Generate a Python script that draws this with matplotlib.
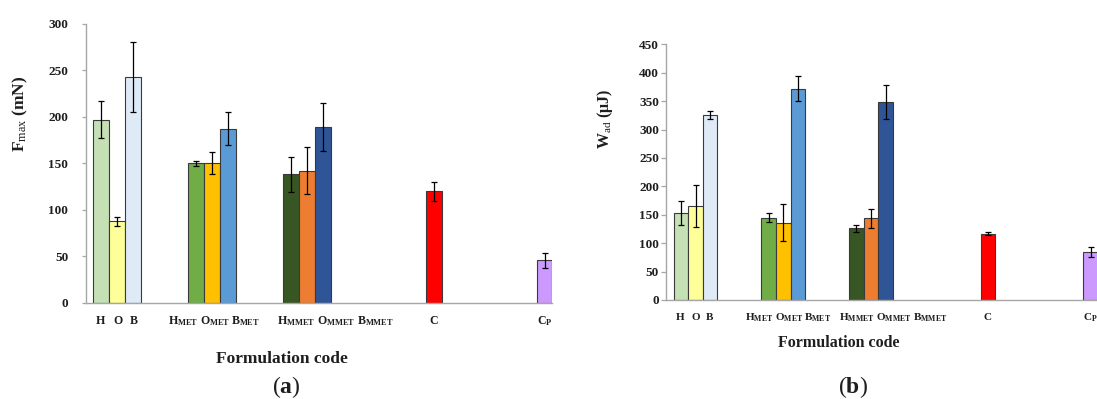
import matplotlib
matplotlib.use("Agg")
import matplotlib.pyplot as plt
from matplotlib.patches import Rectangle

plt.rcParams['font.family'] = ['Liberation Serif', 'DejaVu Serif']
plt.rcParams['mathtext.fontset'] = 'custom'
plt.rcParams['mathtext.rm'] = 'Liberation Serif'
plt.rcParams['mathtext.bf'] = 'Liberation Serif:bold'
plt.rcParams['mathtext.it'] = 'Liberation Serif:italic'

# ---------------- data ----------------
categories = ['H', 'O', 'B', 'H_MET', 'O_MET', 'B_MET',
              'H_MMET', 'O_MMET', 'B_MMET', 'C', 'C_P']
tick_labels = ['H', 'O', 'B',
               r'H$_{\mathregular{MET}}$', r'O$_{\mathregular{MET}}$', r'B$_{\mathregular{MET}}$',
               r'H$_{\mathregular{MMET}}$', r'O$_{\mathregular{MMET}}$', r'B$_{\mathregular{MMET}}$',
               'C', r'C$_{\mathregular{P}}$']
fmax = [197, 87.5, 243, 150, 150, 187.5, 138, 142, 189, 120, 45.5]
fmax_err = [20, 5, 38, 2.5, 12, 18, 18.5, 25.5, 25.5, 10, 7.7]
wad = [153, 165, 325, 145, 136, 372, 126, 144, 348, 117, 85]
wad_err = [21, 37, 7, 8, 33, 22, 5.5, 16.5, 29.5, 2.5, 9]
colors = ['#C5E0B4', '#FFFF99', '#DEEBF7', '#70AD47', '#FFC000', '#5B9BD5',
          '#375623', '#ED7D31', '#2F5597', '#FF0000', '#CC99FF']

# ---------------- layout ----------------
bar_w = 1 / 6
bar_pos = [-1/6, 0, 1/6, 5/6, 1, 7/6, 11/6, 2, 13/6, 10/3, 4.5]
label_pos_a = [-0.17, 0.01, 0.18, 0.70, 1.03, 1.35, 1.88, 2.31, 2.72, 3.33, 4.5]
label_pos_b = [-0.17, 0.0, 0.16, 0.72, 1.07, 1.39, 1.84, 2.26, 2.67, 3.33, 4.5]

W, H = 1097, 399
fig = plt.figure(figsize=(W / 100, H / 100), dpi=100)


def px_axes(x0, x1, ytop, ybot):
    return fig.add_axes([x0 / W, 1 - ybot / H, (x1 - x0) / W, (ybot - ytop) / H])


text_color = '#1E1E1E'
spine_color = '#A6A6A6'


def draw_panel(ax, vals, errs, ymax, xlim, ylabel, xlabel_xy, ylabel_xy, tickpad, ytickpad,
               ticklen, label_pos, xtick_size, label_size):
    ax.bar(bar_pos, vals, width=bar_w, color=colors, edgecolor='#3A3A3A', linewidth=0.8, zorder=2)
    ax.errorbar(bar_pos, vals, yerr=errs, fmt='none', ecolor='black', elinewidth=0.9,
                capsize=2.3, capthick=0.9, zorder=3)
    ax.set_xlim(*xlim)
    ax.set_ylim(0, ymax)
    ax.set_yticks(range(0, ymax + 1, 50))
    for s in ['top', 'right']:
        ax.spines[s].set_visible(False)
    for s in ['left', 'bottom']:
        ax.spines[s].set_color(spine_color)
        ax.spines[s].set_linewidth(1.0)
    ax.tick_params(axis='y', colors=spine_color, length=ticklen, width=0.9, pad=ytickpad,
                   labelcolor=text_color, labelsize=9.5)
    for lab in ax.get_yticklabels():
        lab.set_fontweight('bold')
    ax.set_xticks(label_pos)
    labs = ax.set_xticklabels(tick_labels, fontsize=xtick_size, fontweight='bold',
                              color=text_color, va='baseline')
    ax.tick_params(axis='x', length=0, pad=tickpad)
    ax.set_ylabel(ylabel, fontsize=label_size, fontweight='bold', color=text_color)
    ax.yaxis.label.set_va('center')
    ax.yaxis.set_label_coords(*ylabel_xy)
    ax.set_xlabel('Formulation code', fontsize=label_size, fontweight='bold', color=text_color)
    ax.xaxis.label.set_va('center')
    ax.xaxis.set_label_coords(*xlabel_xy)
    return labs


axL = px_axes(86, 552, 24, 302.7)
labsL = draw_panel(axL, fmax, fmax_err, 300,
                   ((86 - 117) / 95, (552 - 117) / 95),
                   r'F$_{\mathrm{max}}$ (mN)',
                   ((281.7 - 86) / 466, (302.7 - 359.3) / 278.7),
                   ((20 - 86) / 466, (302.7 - 113.5) / 278.7),
                   15.6, 9.6, 3.2, label_pos_a, 8.6, 12.5)
clip_rect = Rectangle((0, 0), 552 / W, 1, transform=fig.transFigure)
for lab in labsL:
    lab.set_clip_path(clip_rect)

axR = px_axes(666, 1097, 44.3, 300)
draw_panel(axR, wad, wad_err, 450,
           ((666 - 695.5) / 87.8, (1097 - 695.5) / 87.8),
           r'W$_{\mathrm{ad}}$ (μJ)',
           ((838.7 - 666) / 431, (300 - 343.3) / 255.7),
           ((605 - 666) / 431, (300 - 119) / 255.7),
           14.6, 1.5, 3.6, label_pos_b, 8.0, 11.5)

fig.text(286.6 / W, 1 - 386.7 / H, r'($\mathbf{a}$)', fontsize=17, ha='center', va='center',
         color=text_color)
fig.text(853 / W, 1 - 386.7 / H, r'($\mathbf{b}$)', fontsize=17, ha='center', va='center',
         color=text_color)

fig.savefig('out.png', dpi=100)
